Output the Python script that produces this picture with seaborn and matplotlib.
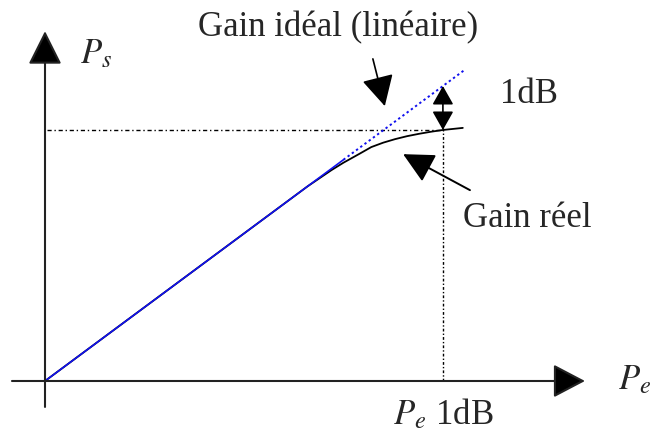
import numpy as np
import pandas as pd
import matplotlib
matplotlib.use("Agg")
import matplotlib.pyplot as plt
import seaborn as sns

# ------------------------------------------------------------
# Data (arbitrary units, Pe 1dB point at Pe = 10)
# ------------------------------------------------------------
pe_ideal = [0.0, 7.5, 10.0, 10.55]
ps_ideal = [0.0, 7.5, 10.0, 10.55]

pe_real = [0.0, 6.6, 7.2, 7.5, 7.9, 8.2, 8.5, 8.8, 9.1, 9.4, 9.7, 10.0, 10.5]
ps_real = [0.0, 6.6, 7.15, 7.4, 7.7, 7.93, 8.08, 8.2, 8.3, 8.38, 8.45, 8.51, 8.58]

pe_1db = 10.0
ps_1db = 8.51
ps_ideal_1db = 10.0

ideal = pd.DataFrame({"Pe": pe_ideal, "Ps": ps_ideal})
real = pd.DataFrame({"Pe": pe_real, "Ps": ps_real})

# ------------------------------------------------------------
# Style
# ------------------------------------------------------------
sns.set_style("white")
plt.rcParams["font.family"] = ["Liberation Serif", "DejaVu Serif"]
plt.rcParams["mathtext.fontset"] = "stix"

fig = plt.figure(figsize=(6.53, 4.35), dpi=100)
ax = fig.add_axes([0, 0, 1, 1])
ax.set_xlim(-1.131, 15.28)
ax.set_ylim(-1.797, 12.95)
ax.axis("off")

fs = 25
axis_col = "#222222"

# axes with arrow heads
ax.annotate("", xy=(13.57, 0), xytext=(-0.83, 0),
            arrowprops=dict(arrowstyle="-|>,head_length=20,head_width=10.5",
                            mutation_scale=1, lw=1.5, color=axis_col,
                            fc="black", shrinkA=0, shrinkB=0))
ax.annotate("", xy=(0, 11.86), xytext=(0, -0.88),
            arrowprops=dict(arrowstyle="-|>,head_length=21,head_width=10.5",
                            mutation_scale=1, lw=1.5, color=axis_col,
                            fc="black", shrinkA=0, shrinkB=0))

# guide lines at the 1 dB point
ax.plot([0.05, pe_1db], [ps_1db, ps_1db], color="black", lw=1.0,
        linestyle=(0, (3, 2, 1, 2)))
ax.plot([pe_1db, pe_1db], [0, ps_1db + 0.2], color="black", lw=1.0,
        linestyle=(0, (2, 1.5, 1, 1.5)))

# real gain curve
sns.lineplot(data=real, x="Pe", y="Ps", sort=False, estimator=None,
             color="black", lw=1.3, ax=ax)
# ideal gain: solid where it overlaps, dotted beyond
sns.lineplot(data=ideal.iloc[:2], x="Pe", y="Ps", sort=False, estimator=None,
             color="#1010ee", lw=1.2, ax=ax)
sns.lineplot(data=ideal.iloc[1:], x="Pe", y="Ps", sort=False, estimator=None,
             color="#1010ee", lw=1.4, linestyle=(0, (1.2, 1.5)), ax=ax)

# 1 dB double arrow
ax.annotate("", xy=(pe_1db, ps_ideal_1db), xytext=(pe_1db, ps_1db),
            arrowprops=dict(arrowstyle="<|-|>,head_length=11.5,head_width=6.5",
                            mutation_scale=1, lw=1.2, color="black",
                            fc="black", shrinkA=0, shrinkB=0))

# annotation arrows
ax.annotate("", xy=(8.54, 9.32), xytext=(8.24, 10.92),
            arrowprops=dict(arrowstyle="-|>,head_length=19,head_width=10",
                            mutation_scale=1, lw=1.2, color="black",
                            fc="black", shrinkA=0, shrinkB=0))
ax.annotate("", xy=(9.0, 7.69), xytext=(10.68, 6.47),
            arrowprops=dict(arrowstyle="-|>,head_length=19,head_width=9.5",
                            mutation_scale=1, lw=1.4, color="black",
                            fc="black", shrinkA=0, shrinkB=0))

# labels
ax.text(0.88, 11.08, "$P_s$", fontsize=fs, ha="left", va="center")
ax.text(14.4, 0.05, "$P_e$", fontsize=fs, ha="left", va="center")
ax.text(8.75, -1.12, "$P_e$ 1dB", fontsize=fs, ha="left", va="center")
ax.text(11.43, 9.73, "1dB", fontsize=fs, ha="left", va="center")
ax.text(10.5, 5.55, "Gain réel", fontsize=fs, ha="left", va="center")
ax.text(7.36, 12.0, "Gain idéal (linéaire)", fontsize=fs, ha="center",
        va="center")

fig.savefig("out.png", dpi=100)
plt.close(fig)
